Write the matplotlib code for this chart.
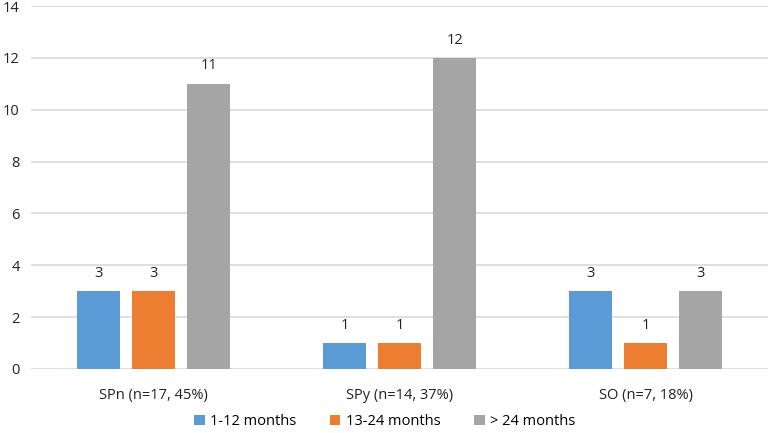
import numpy as np
import matplotlib.pyplot as plt

plt.rcParams['font.family'] = ['Open Sans', 'DejaVu Sans']

categories = ['SPn (n=17, 45%)', 'SPy (n=14, 37%)', 'SO (n=7, 18%)']
series_names = ['1-12 months', '13-24 months', '> 24 months']
m1_12 = [3, 1, 3]
m13_24 = [3, 1, 1]
m24_plus = [11, 12, 3]
colors = ['#5B9BD5', '#ED7D31', '#A5A5A5']

fig = plt.figure(figsize=(7.7, 4.33), dpi=100)
ax = fig.add_axes([0.040, 0.148, 0.958, 0.838])

x = np.arange(len(categories))
width = 0.175
step = 0.224
for i, (vals, name) in enumerate(zip((m1_12, m13_24, m24_plus), series_names)):
    pos = x + (i - 1) * step
    bars = ax.bar(pos, vals, width=width, color=colors[i], label=name, zorder=3)
    for b, v in zip(bars, vals):
        ax.text(b.get_x() + b.get_width() / 2, v + 0.4, str(v),
                ha='center', va='bottom', fontsize=10.5, color='#222222')

ax.set_xlim(-0.5, len(categories) - 0.5)
ax.set_ylim(0, 14)
ax.set_yticks(np.arange(0, 15, 2))
ax.set_xticks(x)
ax.set_xticklabels(categories)
ax.grid(axis='y', color='#D9D9D9', linewidth=1.2, zorder=0)
for s in ax.spines.values():
    s.set_visible(False)
ax.tick_params(axis='both', length=0, labelsize=10.5, colors='#222222')
ax.tick_params(axis='x', pad=14)
ax.tick_params(axis='y', pad=8)

# legend kept just inside the bottom edge
fig.legend(loc='lower center', bbox_to_anchor=(0.5, -0.022), ncol=3, frameon=False,
           fontsize=10.5, handlelength=0.7, handleheight=0.7, handletextpad=0.4,
           columnspacing=2.3)

fig.savefig('out.png', dpi=100)
